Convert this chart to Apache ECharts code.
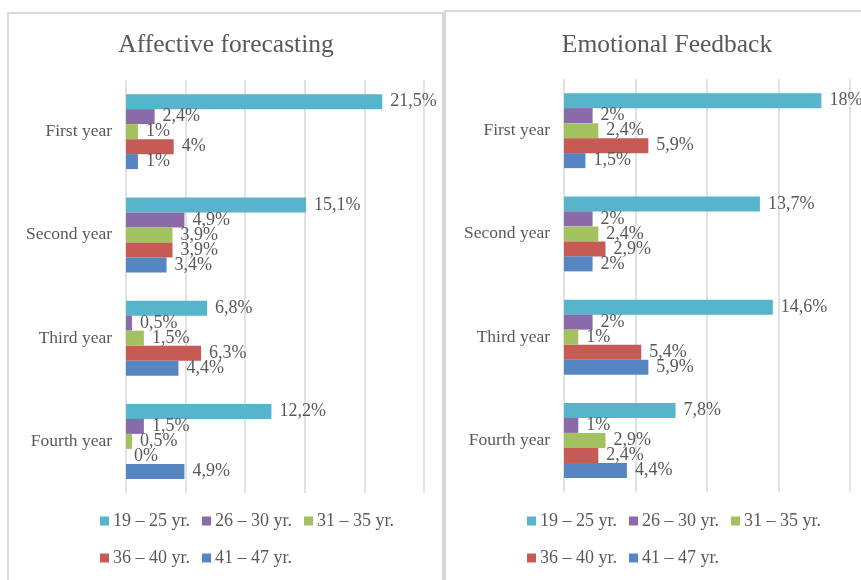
<!DOCTYPE html>
<html>
<head>
<meta charset="utf-8">
<script src="https://cdn.jsdelivr.net/npm/echarts@6/dist/echarts.min.js"></script>
<style>
  html, body { margin: 0; padding: 0; background: #fff; }
  #chart { width: 861px; height: 580px; }
</style>
</head>
<body>
<div id="chart"></div>
<script>
const years = ["First year", "Second year", "Third year", "Fourth year"];
const groups = ["19 – 25 yr.", "26 – 30 yr.", "31 – 35 yr.", "36 – 40 yr.", "41 – 47 yr."];
const colors = ["#56b4cb", "#8a6aa8", "#a2c15f", "#c65a55", "#5586c2"];

// Affective forecasting, one array per age group (First..Fourth year)
const affective19 = [21.5, 15.1, 6.8, 12.2];
const affective26 = [2.4, 4.9, 0.5, 1.5];
const affective31 = [1, 3.9, 1.5, 0.5];
const affective36 = [4, 3.9, 6.3, 0];
const affective41 = [1, 3.4, 4.4, 4.9];

// Emotional Feedback
const emotional19 = [18, 13.7, 14.6, 7.8];
const emotional26 = [2, 2, 2, 1];
const emotional31 = [2.4, 2.4, 1, 2.9];
const emotional36 = [5.9, 2.9, 5.4, 2.4];
const emotional41 = [1.5, 2, 5.9, 4.4];

const affectiveData = [affective19, affective26, affective31, affective36, affective41];
const emotionalData = [emotional19, emotional26, emotional31, emotional36, emotional41];

const font = "Liberation Serif";
const gray = "#595959";
const lineGray = "#d9d9d9";

function makeSeries(dataSets, idx) {
  return dataSets.map((d, i) => ({
    name: groups[i],
    type: "bar",
    xAxisIndex: idx,
    yAxisIndex: idx,
    data: d,
    barWidth: 15,
    barGap: "0%",
    itemStyle: { color: colors[i] },
    label: {
      show: true,
      position: "right",
      distance: 8,
      color: gray,
      fontFamily: font,
      fontSize: 18,
      formatter: (p) => String(p.value).replace(".", ",") + "%"
    }
  }));
}

function makeLegends(left, top1, top2) {
  const base = {
    orient: "horizontal",
    icon: "rect",
    itemWidth: 9,
    itemHeight: 9,
    itemGap: 12,
    textStyle: { color: gray, fontFamily: font, fontSize: 18, padding: [0, 0, 0, -1] },
    left: left
  };
  return [
    Object.assign({}, base, { top: top1, data: groups.slice(0, 3) }),
    Object.assign({}, base, { top: top2, data: groups.slice(3) })
  ];
}

let chartDom = document.getElementById("chart");
let myChart = echarts.init(chartDom);
let option;

option = {
  animation: false,
  graphic: [
    { type: "rect", shape: { x: 8, y: 13, width: 435, height: 600 }, style: { fill: "none", stroke: lineGray, lineWidth: 2 } },
    { type: "rect", shape: { x: 445, y: 11, width: 450, height: 600 }, style: { fill: "none", stroke: lineGray, lineWidth: 2 } }
  ],
  title: [
    { text: "Affective forecasting", left: 221, textAlign: "center", top: 27,
      textStyle: { color: gray, fontFamily: font, fontSize: 25.5, fontWeight: "normal" } },
    { text: "Emotional Feedback", left: 662, textAlign: "center", top: 27,
      textStyle: { color: gray, fontFamily: font, fontSize: 25.5, fontWeight: "normal" } }
  ],
  legend: makeLegends(95, 507, 544).concat(makeLegends(522, 507, 544)),
  grid: [
    { left: 126, width: 298, top: 80, height: 413 },
    { left: 564, width: 286, top: 79, height: 413 }
  ],
  xAxis: [0, 1].map((i) => ({
    gridIndex: i,
    type: "value",
    min: 0,
    max: i === 0 ? 25 : 20,
    interval: 5,
    axisLabel: { show: false },
    axisLine: { show: false },
    axisTick: { show: false },
    splitLine: { lineStyle: { color: lineGray, width: 1.5 } }
  })),
  yAxis: [0, 1].map((i) => ({
    gridIndex: i,
    type: "category",
    data: years,
    inverse: true,
    axisLine: { show: false },
    axisTick: { show: false },
    axisLabel: { color: gray, fontFamily: font, fontSize: 17.5, margin: 14 }
  })),
  series: makeSeries(affectiveData, 0).concat(makeSeries(emotionalData, 1))
};

option && myChart.setOption(option);
</script>
</body>
</html>
